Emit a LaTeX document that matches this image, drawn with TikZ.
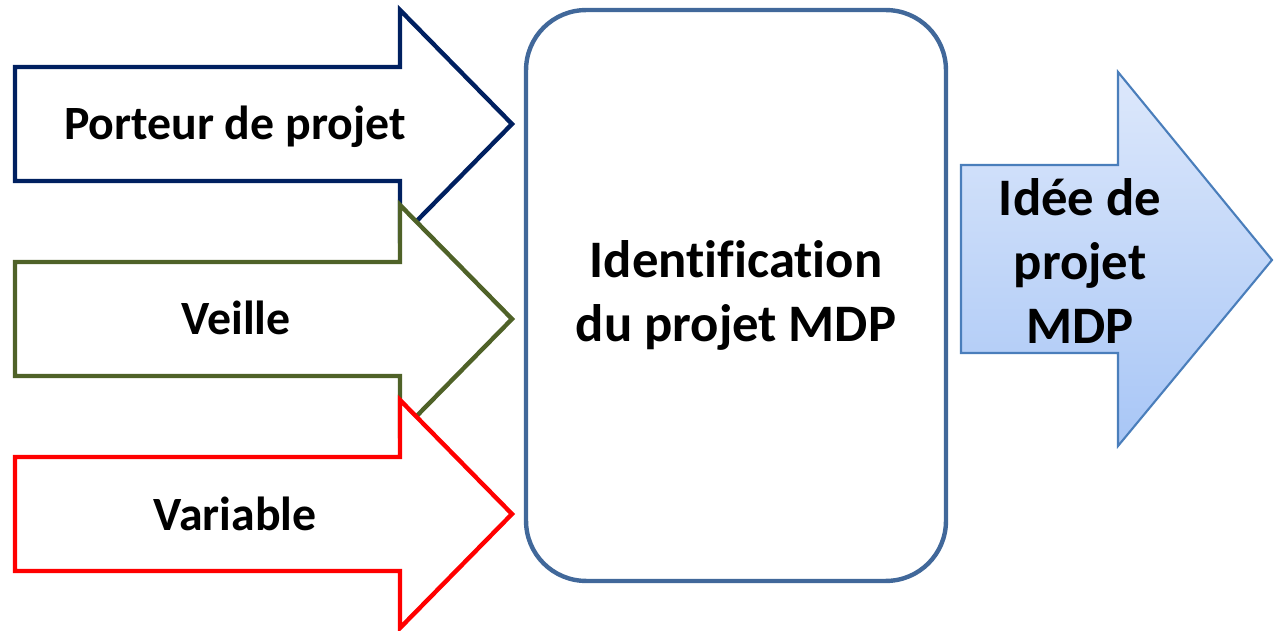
\documentclass[tikz,border=0pt]{standalone}
\usepackage{fontspec}
\setmainfont[Ligatures=NoCommon]{Carlito}
\usepackage{tikz}
\usetikzlibrary{positioning}
\definecolor{navy}{HTML}{002060}
\definecolor{olive}{HTML}{4F6228}
\definecolor{boxblue}{HTML}{41689A}
\definecolor{arrowblue}{HTML}{4A7EBB}
\definecolor{lightblue}{HTML}{DDE8FB}
\definecolor{midblue}{HTML}{A8C6F6}
\tikzset{
    x=0.02cm, y=-0.02cm,
    inarrow/.style = {line width=2.5pt, fill=white},
    outarrow/.style = {line width=1.2pt, draw=arrowblue, top color=lightblue, bottom color=midblue},
    lbl/.style = {font=\bfseries\fontsize{27.2}{33}\selectfont, anchor=base},
    bigtxt/.style = {font=\bfseries\fontsize{30}{36.5}\selectfont, align=center},
    idbox/.style = {rectangle, draw=boxblue, line width=2.5pt, rounded corners=1.2cm,
                    minimum width=8.4cm, minimum height=11.42cm},
}

\begin{document}
\begin{tikzpicture}
\useasboundingbox (0,0) rectangle (1274,631);

    % input arrows
    \draw[inarrow, draw=navy] (15,67) -- (400,67) -- (400,10) -- (512,124) -- (400,238) -- (400,181) -- (15,181) -- cycle;
    \draw[inarrow, draw=olive] (15,262) -- (400,262) -- (400,205) -- (512,319) -- (400,433) -- (400,376) -- (15,376) -- cycle;
    \draw[inarrow, draw=red] (15,457) -- (400,457) -- (400,400) -- (512,514) -- (400,628) -- (400,571) -- (15,571) -- cycle;
    \node[lbl] (porteur) at (235,140) {Porteur de projet};
    \node[lbl] (veille) at (236,335) {Veille};
    \node[lbl] (variable) at (235,530) {Variable};

    % central box
    \node[idbox, bigtxt] (ident) at (736,295.5) {Identification\\du projet MDP};

    % output arrow
    \draw[outarrow] (961,165) -- (1118,165) -- (1118,72) -- (1272,260) -- (1118,446) -- (1118,353) -- (961,353) -- cycle;
    \node[bigtxt] (idee) at (1080,261) {Idée de\\projet\\MDP};

\end{tikzpicture}
\end{document}
